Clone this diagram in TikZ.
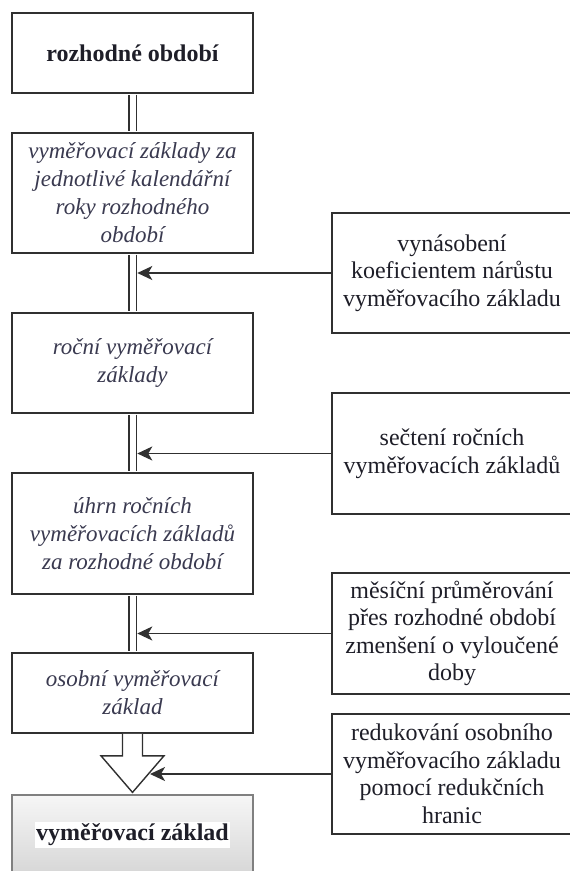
\documentclass[tikz,border=0pt]{standalone}
\usepackage{fontspec}
\setmainfont{Liberation Serif}
\usetikzlibrary{arrows.meta,calc}
\definecolor{ink}{HTML}{1E1E28}
\definecolor{itink}{HTML}{3A3A50}
\definecolor{edge}{HTML}{303030}
\definecolor{finedge}{HTML}{808080}
\begin{document}
\begin{tikzpicture}[x=1pt,y=-1pt,
  stagebox/.style={draw=edge, line width=1.6pt, fill=white, minimum width=241pt,
    inner sep=2pt, align=center, text=itink,
    font=\fontsize{23}{28}\selectfont\itshape},
  titlebox/.style={stagebox, text=ink, font=\fontsize{24}{28}\selectfont\bfseries},
  opbox/.style={draw=edge, line width=1.6pt, fill=white, minimum width=240pt,
    inner sep=2pt, align=center, text=ink,
    font=\fontsize{24}{27.5}\selectfont},
  finbox/.style={draw=finedge, line width=1.2pt, minimum width=241pt,
    top color=gray!7, bottom color=gray!32, text=ink,
    font=\fontsize{24}{28}\selectfont\bfseries},
  rail/.style={draw=edge, line width=1.8pt, double=white, double distance=6pt,
    shorten <=0.8pt, shorten >=0.8pt},
  feed/.style={draw=edge, line width=1.6pt, -{Stealth[length=15pt,width=14pt,inset=4pt]}},
  hollow/.style={draw=edge, line width=1.4pt, fill=white, line join=miter},
]
\useasboundingbox (0,0) rectangle (570,871);
\clip (0,0) rectangle (570,871);

% main chain of stages
\node[titlebox, minimum height=80pt]  (b1) at (132.5,53)  {rozhodné období};
\node[stagebox, minimum height=120pt] (b2) at (132.5,193) {vyměřovací základy za\\jednotlivé kalendářní\\roky rozhodného\\období};
\node[stagebox, minimum height=100pt] (b3) at (132.5,363) {roční vyměřovací\\základy};
\node[stagebox, minimum height=121pt] (b4) at (132.5,533.5) {úhrn ročních\\vyměřovacích základů\\za rozhodné období};
\node[stagebox, minimum height=80pt]  (b5) at (132.5,693) {osobní vyměřovací\\základ};
\node[finbox, minimum height=80pt]    (fin) at (132.5,835) {\setlength{\fboxsep}{1.5pt}\colorbox{white}{vyměřovací základ}};

% operations applied between the stages
\node[opbox, minimum height=120pt] (r1) at (452,273)   {vynásobení\\koeficientem nárůstu\\vyměřovacího základu};
\node[opbox, minimum height=121pt] (r2) at (452,453.5) {sečtení ročních\\vyměřovacích základů};
\node[opbox, minimum height=121pt] (r3) at (452,633.5) {měsíční průměrování\\přes rozhodné období\\zmenšení o vyloučené\\doby};
\node[opbox, minimum height=120pt] (r4) at (452,774)   {redukování osobního\\vyměřovacího základu\\pomocí redukčních\\hranic};

% double rails between stages
\draw[rail] (b1.south) -- (b2.north);
\draw[rail] (b2.south) -- (b3.north);
\draw[rail] (b3.south) -- (b4.north);
\draw[rail] (b4.south) -- (b5.north);

% hollow arrow into the result
\draw[hollow] ($(b5.south)+(-10,0)$) -- ++(0,22) -- ++(-21.5,0)
  -- ($(fin.north)+(0,-2)$) -- ($(b5.south)+(31.5,22)$) -- ++(-21.5,0) -- ++(0,-22);

% operation feeds
\coordinate (railedge) at (137.3,0);
\coordinate (headedge) at (150,0);
\draw[feed] (r1.west) -- (r1.west -| railedge);
\draw[feed] (r2.west) -- (r2.west -| railedge);
\draw[feed] (r3.west) -- (r3.west -| railedge);
\draw[feed] (r4.west) -- (r4.west -| headedge);
\end{tikzpicture}
\end{document}
